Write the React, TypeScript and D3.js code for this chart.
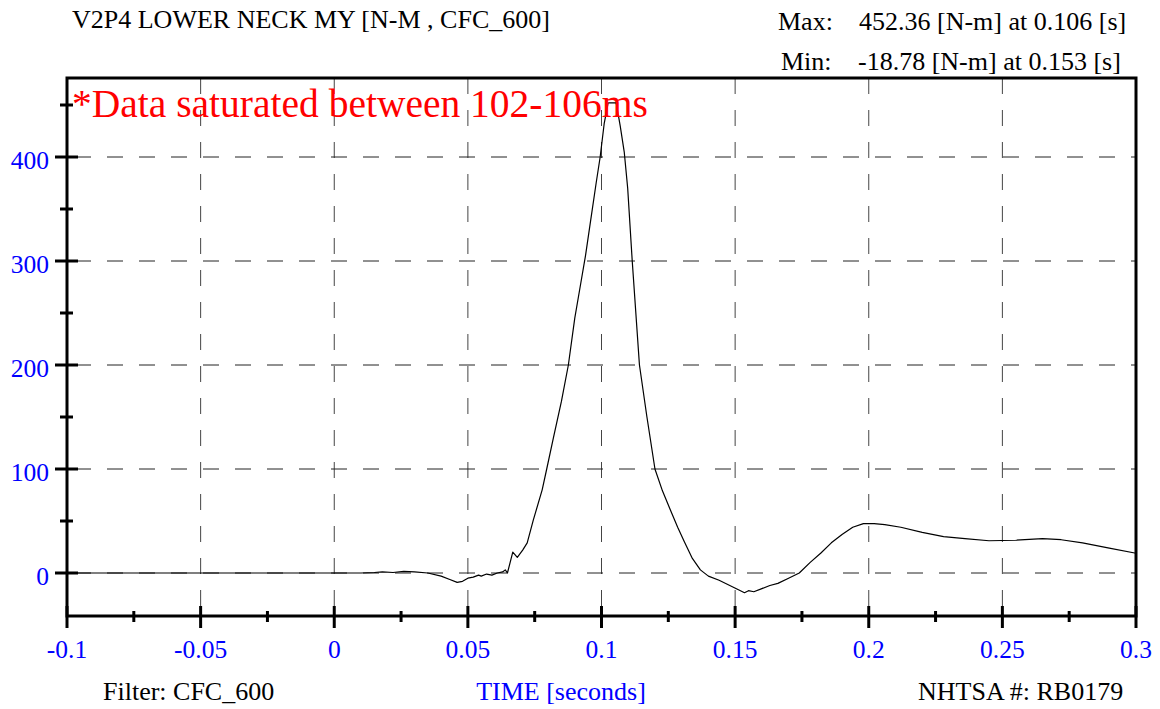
import React from "react";
import * as d3 from "d3";

const times: number[] = [
  -0.1, 0.0, 0.01, 0.015, 0.018, 0.022, 0.026, 0.03, 0.035, 0.04, 0.043, 0.046, 0.048, 0.05,
  0.052, 0.054, 0.055, 0.057, 0.059, 0.061, 0.063, 0.064, 0.0648, 0.0658, 0.0668, 0.0685, 0.0705,
  0.0722, 0.0745, 0.0778, 0.0795, 0.082, 0.085, 0.0876, 0.09, 0.092, 0.094, 0.096, 0.098,
  0.0995, 0.101, 0.1025, 0.1055, 0.107, 0.1085, 0.1098, 0.1115, 0.1142, 0.117, 0.12, 0.1228,
  0.1257, 0.1285, 0.131, 0.134, 0.137, 0.14, 0.144, 0.148, 0.152, 0.1535, 0.155, 0.157, 0.16,
  0.163, 0.166, 0.17, 0.174, 0.178, 0.182, 0.186, 0.19, 0.194, 0.198, 0.202, 0.206, 0.212,
  0.22, 0.228, 0.236, 0.245, 0.255, 0.265, 0.272, 0.28, 0.29, 0.3,
];
const values: number[] = [
  0, 0, 0, 0.5, 1, 0.5, 1.5, 1, 0, -3, -6, -9, -8, -5,
  -4, -2, -3, -1, -2, 0, 1, 3, 0, 10, 20, 15, 22,
  29, 51, 80, 100, 130, 165, 200, 245, 275, 305, 340, 375,
  400, 432, 452, 452, 430, 405, 370, 300, 200, 150, 100, 79,
  61, 44, 30, 14, 3, -3, -7, -12, -17, -19, -17, -18, -15,
  -12, -10, -5, 0, 10, 19, 29, 37, 44, 47.5, 47.5, 46.5, 44,
  39, 35, 33, 31, 31.5, 33, 32, 29, 24, 19,
];

const xMajorTicks: number[] = [-0.1, -0.05, 0, 0.05, 0.1, 0.15, 0.2, 0.25, 0.3];
const xTickLabels: string[] = ["-0.1", "-0.05", "0", "0.05", "0.1", "0.15", "0.2", "0.25", "0.3"];
const xMinorTicks: number[] = [-0.075, -0.025, 0.025, 0.075, 0.125, 0.175, 0.225, 0.275];
const yMajorTicks: number[] = [0, 100, 200, 300, 400];
const yMinorTicks: number[] = [-50, 50, 150, 250, 350, 450];

const title = "V2P4 LOWER NECK MY [N-M , CFC_600]";
const maxLabel = "Max:";
const maxText = "452.36 [N-m] at 0.106 [s]";
const minLabel = "Min:";
const minText = "-18.78 [N-m] at 0.153 [s]";
const note = "*Data saturated between 102-106ms";
const filterText = "Filter: CFC_600";
const xTitle = "TIME [seconds]";
const idText = "NHTSA #: RB0179";

export default function App() {
  const W = 1160, H = 709;
  const left = 67, right = 1136, top = 78, bottom = 616;
  const x = d3.scaleLinear().domain([-0.1, 0.3]).range([left, right]);
  const y = d3.scaleLinear().domain([0, 400]).range([573, 157]);
  const data = times.map((t, i) => [t, values[i]] as [number, number]);
  const line = d3.line<[number, number]>().x(d => x(d[0])).y(d => y(d[1]));
  const font = "'Liberation Serif', 'Times New Roman', serif";
  const blue = "#0000ff";
  const fs = 26;
  return (
    <svg width={W} height={H} style={{ position: "absolute", left: 0, top: 0 }} fontFamily={font}>
      <rect x={0} y={0} width={W} height={H} fill="#fff" />
      {xMajorTicks.slice(1, -1).map((t, i) => (
        <line key={"gx" + i} x1={x(t)} x2={x(t)} y1={top} y2={bottom} stroke="#444" strokeWidth={1} strokeDasharray="16,16" />
      ))}
      {yMajorTicks.map((v, i) => (
        <line key={"gy" + i} x1={left} x2={right} y1={y(v)} y2={y(v)} stroke="#222" strokeWidth={1} strokeDasharray="16,16" strokeDashoffset={-8} />
      ))}
      <path d={line(data) || ""} fill="none" stroke="#000" strokeWidth={1.2} strokeLinejoin="round" />
      <rect x={left} y={top} width={right - left} height={bottom - top} fill="none" stroke="#000" strokeWidth={3} />
      {yMajorTicks.map((v, i) => (
        <line key={"yt" + i} x1={55} x2={78} y1={y(v)} y2={y(v)} stroke="#000" strokeWidth={3} />
      ))}
      {yMinorTicks.filter(v => y(v) > top && y(v) < bottom).map((v, i) => (
        <line key={"ym" + i} x1={60} x2={73} y1={y(v)} y2={y(v)} stroke="#000" strokeWidth={3} />
      ))}
      {yMajorTicks.map((v, i) => (
        <text key={"yl" + i} x={49} y={y(v) + 12} textAnchor="end" fontSize={25.5} fill={blue}>{String(v)}</text>
      ))}
      {xMajorTicks.map((t, i) => (
        <line key={"xt" + i} x1={x(t)} x2={x(t)} y1={606} y2={628} stroke="#000" strokeWidth={3} />
      ))}
      {xMinorTicks.map((t, i) => (
        <line key={"xm" + i} x1={x(t)} x2={x(t)} y1={611} y2={622} stroke="#000" strokeWidth={3} />
      ))}
      {xMajorTicks.map((t, i) => (
        <text key={"xl" + i} x={x(t)} y={658} textAnchor="middle" fontSize={25.5} fill={blue}>{xTickLabels[i]}</text>
      ))}
      <text x={72} y={28} fontSize={fs} fill="#000">{title}</text>
      <text x={778} y={30} fontSize={fs} fill="#000">{maxLabel}</text>
      <text x={859} y={30} fontSize={fs} fill="#000">{maxText}</text>
      <text x={781} y={70} fontSize={fs} fill="#000">{minLabel}</text>
      <text x={858} y={70} fontSize={fs} fill="#000">{minText}</text>
      <text x={72} y={117} fontSize={39.5} fill="#ff0000">{note}</text>
      <text x={103} y={700} fontSize={fs} fill="#000">{filterText}</text>
      <text x={561} y={700} fontSize={fs} fill={blue} textAnchor="middle">{xTitle}</text>
      <text x={918} y={700} fontSize={fs} fill="#000">{idText}</text>
    </svg>
  );
}
